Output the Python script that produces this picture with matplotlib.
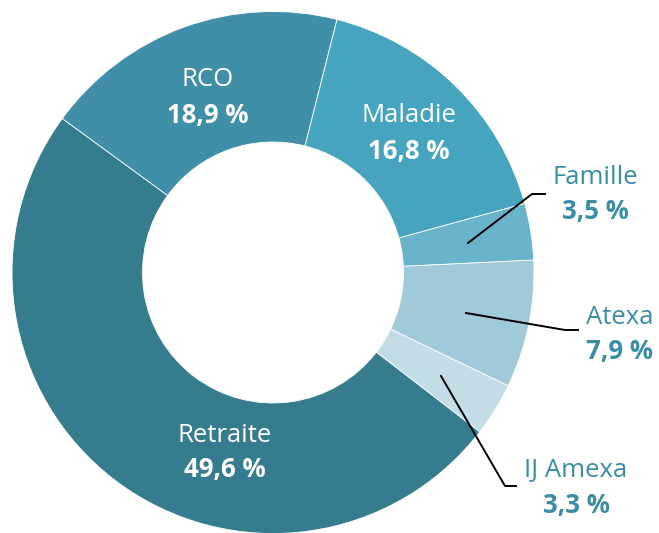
import matplotlib
matplotlib.use("Agg")
import matplotlib.pyplot as plt

labels = ["Retraite", "RCO", "Maladie", "Famille", "Atexa", "IJ Amexa"]
values = [49.6, 18.9, 16.8, 3.5, 7.9, 3.3]
colors = ["#357C8F", "#3F8FA8", "#46A4BE", "#6AB4CB", "#A0CADA", "#C2DDE6"]
value_text = ["49,6 %", "18,9 %", "16,8 %", "3,5 %", "7,9 %", "3,3 %"]

W, H = 659, 533
CX, CY, R = 273, 272.5, 261

fig = plt.figure(figsize=(W / 100, H / 100), dpi=100)
ax = fig.add_axes([(CX - R) / W, (H - CY - R) / H, 2 * R / W, 2 * R / H])
ax.pie(values, colors=colors, startangle=-37.6, counterclock=False,
       radius=1.0, wedgeprops=dict(width=0.5, edgecolor="white", linewidth=0.6))
ax.set_xlim(-1, 1)
ax.set_ylim(-1, 1)
ax.set_aspect("equal")
ax.axis("off")

def d(px, py):
    return ((px - CX) / R, (CY - py) / R)

font = "Open Sans"
fs = 18.5
tc = "#3A8DA5"

# inside labels
inside = {"Retraite": (225, 436, 469), "RCO": (208, 79, 115), "Maladie": (409, 115, 151)}
for i, lab in enumerate(labels):
    if lab in inside:
        x, y1, y2 = inside[lab]
        ax.text(*d(x, y1), lab, color="white", fontsize=fs, family=font,
                ha="center", va="center")
        ax.text(*d(x, y2), value_text[i], color="white", fontsize=fs, family=font,
                fontweight="bold", ha="center", va="center")

# outside labels with leader lines
outside = {
    "Famille": ((595, 178, 212), [(468, 243), (532, 194), (545, 194)]),
    "Atexa": ((620, 317, 351), [(466, 313), (565, 330), (578, 330)]),
    "IJ Amexa": ((576, 470, 505), [(441, 376), (505, 486), (516, 486)]),
}
for i, lab in enumerate(labels):
    if lab in outside:
        (x, y1, y2), pts = outside[lab]
        ax.text(*d(x, y1), lab, color=tc, fontsize=fs, family=font,
                ha="center", va="center", clip_on=False)
        ax.text(*d(x, y2), value_text[i], color=tc, fontsize=fs, family=font,
                fontweight="bold", ha="center", va="center", clip_on=False)
        xs = [d(px, py)[0] for px, py in pts]
        ys = [d(px, py)[1] for px, py in pts]
        ax.plot(xs, ys, color="black", lw=1.4, clip_on=False)

fig.savefig("out.png", dpi=100)
